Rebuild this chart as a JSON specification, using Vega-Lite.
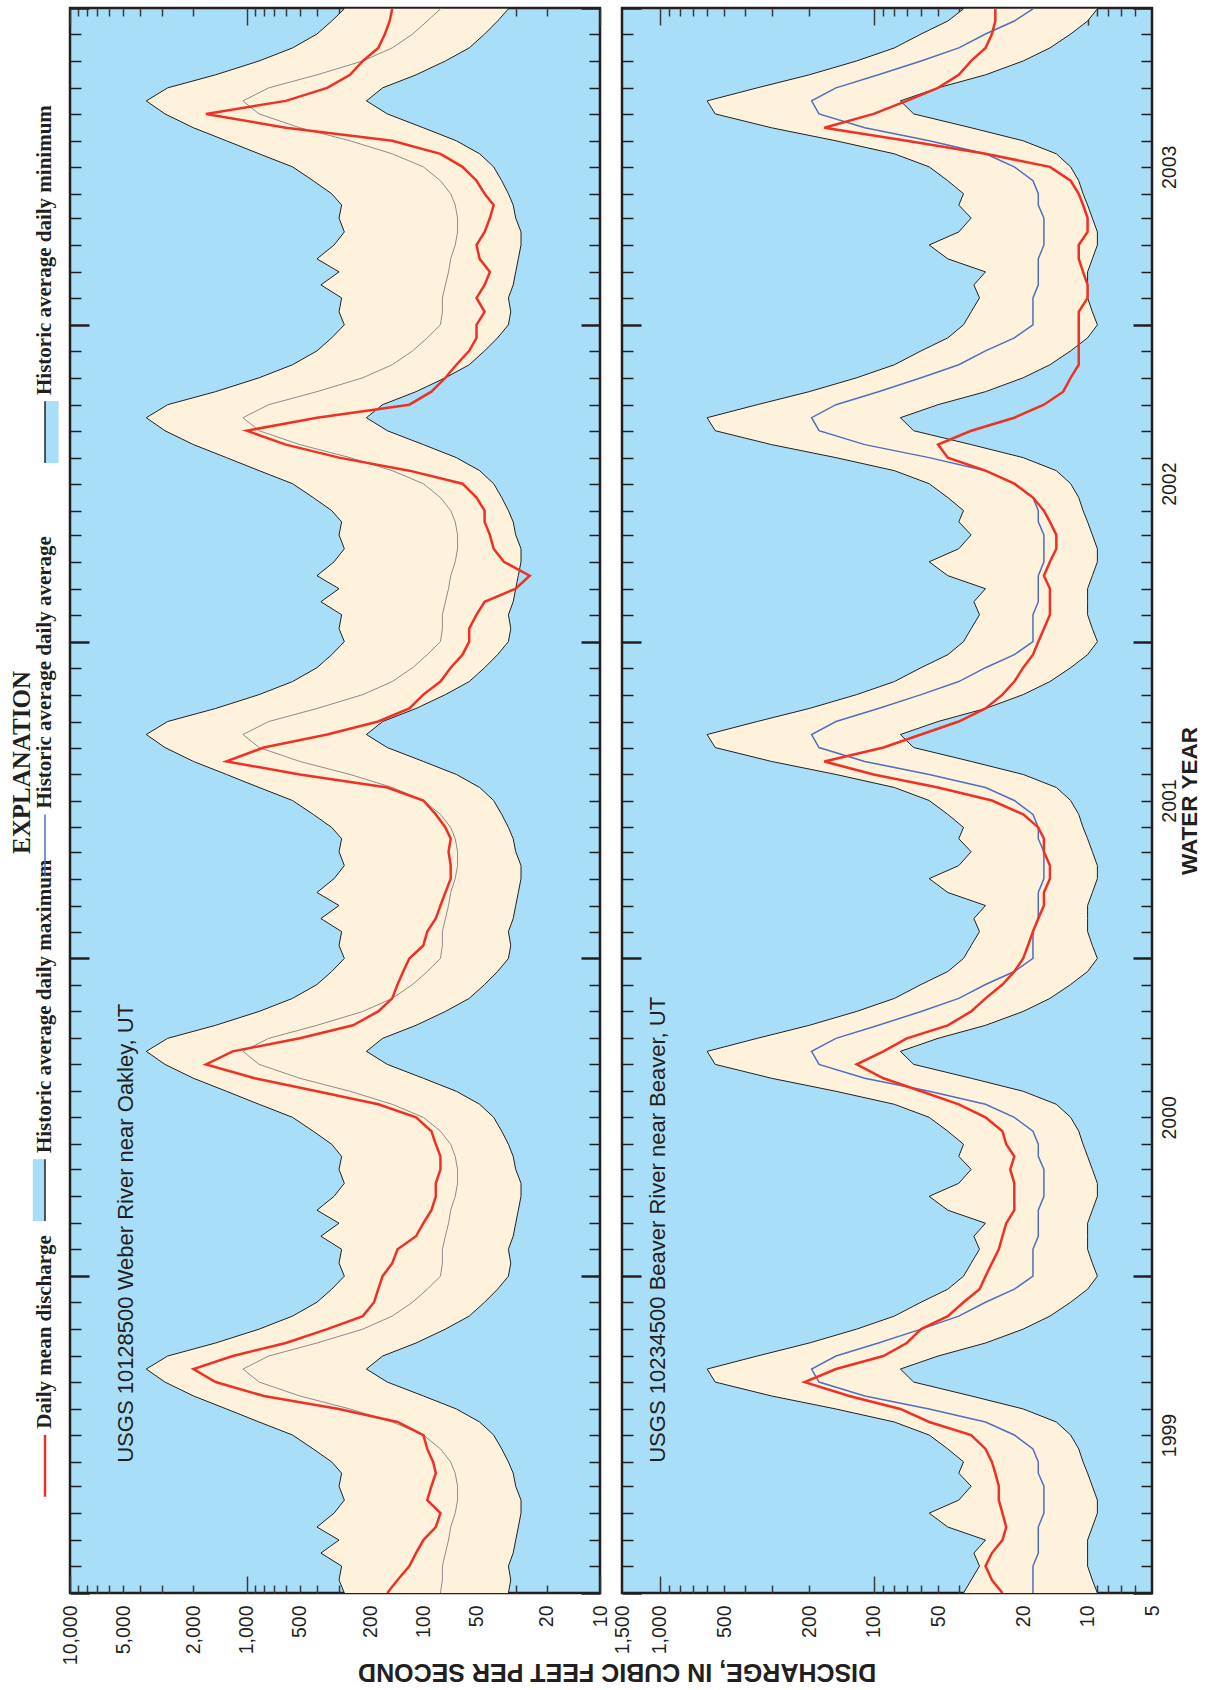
{
"$schema": "https://vega.github.io/schema/vega-lite/v6.json",
"padding": {"left": 0, "top": 5, "right": 0, "bottom": 0},
"bounds": "flush",
"spacing": 22,
"config": {
  "view": {"stroke": "#231f20", "strokeWidth": 2.5, "fill": "#a9def9"},
  "axis": {"labelFont": "Liberation Sans", "labelColor": "#231f20", "titleFont": "Liberation Sans", "titleColor": "#231f20", "grid": false, "domain": false}
},
"title": {"text": "DISCHARGE, IN CUBIC FEET PER SECOND", "orient": "bottom", "anchor": "middle", "angle": 180, "baseline": "alphabetic", "fontSize": 25, "fontWeight": "bold", "font": "Liberation Sans", "color": "#231f20", "offset": -2, "dx": -16},
"datasets": {
"legend": [
 {"item": "Historic average daily minimum", "key": "min"},
 {"item": "Historic average daily average", "key": "avg"},
 {"item": "Historic average daily maximum", "key": "max"},
 {"item": "Daily mean discharge", "key": "mean"}
],
"flow": [
{"date":"1998-10-01","wx":280,"wn":33,"wa":80,"wm":160,"bx":38,"bn":9,"ba":18,"bm":25},
{"date":"1998-10-16","wx":300,"wn":32,"wa":78,"wm":140,"bx":35,"bn":9.5,"ba":18,"bm":28},
{"date":"1998-11-01","wx":290,"wn":33,"wa":78,"wm":120,"bx":32,"bn":10,"ba":18,"bm":30},
{"date":"1998-11-16","wx":380,"wn":31,"wa":75,"wm":110,"bx":34,"bn":10,"ba":17,"bm":28},
{"date":"1998-12-01","wx":300,"wn":30,"wa":72,"wm":100,"bx":30,"bn":10,"ba":17,"bm":25},
{"date":"1998-12-16","wx":400,"wn":29,"wa":70,"wm":85,"bx":45,"bn":9.5,"ba":17,"bm":24},
{"date":"1999-01-01","wx":320,"wn":28,"wa":66,"wm":80,"bx":55,"bn":9,"ba":16,"bm":25},
{"date":"1999-01-16","wx":280,"wn":28,"wa":64,"wm":95,"bx":40,"bn":9,"ba":16,"bm":26},
{"date":"1999-02-01","wx":300,"wn":30,"wa":64,"wm":90,"bx":35,"bn":9.5,"ba":16,"bm":26},
{"date":"1999-02-16","wx":290,"wn":31,"wa":66,"wm":85,"bx":40,"bn":10,"ba":17,"bm":27},
{"date":"1999-03-01","wx":330,"wn":33,"wa":70,"wm":88,"bx":38,"bn":10.5,"ba":17,"bm":28},
{"date":"1999-03-16","wx":420,"wn":36,"wa":80,"wm":95,"bx":45,"bn":11,"ba":18,"bm":30},
{"date":"1999-04-01","wx":550,"wn":40,"wa":100,"wm":100,"bx":55,"bn":12,"ba":22,"bm":35},
{"date":"1999-04-16","wx":850,"wn":48,"wa":150,"wm":140,"bx":80,"bn":14,"ba":30,"bm":55},
{"date":"1999-05-01","wx":1300,"wn":65,"wa":260,"wm":300,"bx":150,"bn":20,"ba":55,"bm":75},
{"date":"1999-05-16","wx":2000,"wn":100,"wa":500,"wm":800,"bx":300,"bn":35,"ba":110,"bm":130},
{"date":"1999-06-01","wx":2900,"wn":160,"wa":850,"wm":1500,"bx":550,"bn":65,"ba":180,"bm":210},
{"date":"1999-06-16","wx":3700,"wn":210,"wa":1050,"wm":2000,"bx":600,"bn":75,"ba":195,"bm":150},
{"date":"1999-07-01","wx":2800,"wn":170,"wa":750,"wm":1200,"bx":350,"bn":50,"ba":150,"bm":90},
{"date":"1999-07-16","wx":1500,"wn":110,"wa":400,"wm":600,"bx":200,"bn":30,"ba":95,"bm":70},
{"date":"1999-08-01","wx":850,"wn":75,"wa":220,"wm":350,"bx":120,"bn":20,"ba":60,"bm":60},
{"date":"1999-08-16","wx":550,"wn":55,"wa":150,"wm":220,"bx":80,"bn":15,"ba":40,"bm":45},
{"date":"1999-09-01","wx":400,"wn":45,"wa":115,"wm":190,"bx":60,"bn":12,"ba":30,"bm":38},
{"date":"1999-09-16","wx":330,"wn":38,"wa":95,"wm":180,"bx":45,"bn":10,"ba":22,"bm":32},
{"date":"1999-10-01","wx":280,"wn":33,"wa":80,"wm":170,"bx":38,"bn":9,"ba":18,"bm":30},
{"date":"1999-10-16","wx":300,"wn":32,"wa":78,"wm":150,"bx":35,"bn":9.5,"ba":18,"bm":28},
{"date":"1999-11-01","wx":290,"wn":33,"wa":78,"wm":140,"bx":32,"bn":10,"ba":18,"bm":26},
{"date":"1999-11-16","wx":380,"wn":31,"wa":75,"wm":110,"bx":34,"bn":10,"ba":17,"bm":25},
{"date":"1999-12-01","wx":300,"wn":30,"wa":72,"wm":100,"bx":30,"bn":10,"ba":17,"bm":24},
{"date":"1999-12-16","wx":400,"wn":29,"wa":70,"wm":90,"bx":45,"bn":9.5,"ba":17,"bm":22},
{"date":"2000-01-01","wx":320,"wn":28,"wa":66,"wm":85,"bx":55,"bn":9,"ba":16,"bm":22},
{"date":"2000-01-16","wx":280,"wn":28,"wa":64,"wm":85,"bx":40,"bn":9,"ba":16,"bm":22},
{"date":"2000-02-01","wx":300,"wn":30,"wa":64,"wm":80,"bx":35,"bn":9.5,"ba":16,"bm":23},
{"date":"2000-02-16","wx":290,"wn":31,"wa":66,"wm":80,"bx":40,"bn":10,"ba":17,"bm":22},
{"date":"2000-03-01","wx":330,"wn":33,"wa":70,"wm":85,"bx":38,"bn":10.5,"ba":17,"bm":24},
{"date":"2000-03-16","wx":420,"wn":36,"wa":80,"wm":90,"bx":45,"bn":11,"ba":18,"bm":25},
{"date":"2000-04-01","wx":550,"wn":40,"wa":100,"wm":110,"bx":55,"bn":12,"ba":22,"bm":30},
{"date":"2000-04-16","wx":850,"wn":48,"wa":150,"wm":180,"bx":80,"bn":14,"ba":30,"bm":40},
{"date":"2000-05-01","wx":1300,"wn":65,"wa":260,"wm":400,"bx":150,"bn":20,"ba":55,"bm":60},
{"date":"2000-05-16","wx":2000,"wn":100,"wa":500,"wm":900,"bx":300,"bn":35,"ba":110,"bm":90},
{"date":"2000-06-01","wx":2900,"wn":160,"wa":850,"wm":1700,"bx":550,"bn":65,"ba":180,"bm":120},
{"date":"2000-06-16","wx":3700,"wn":210,"wa":1050,"wm":1200,"bx":600,"bn":75,"ba":195,"bm":90},
{"date":"2000-07-01","wx":2800,"wn":170,"wa":750,"wm":500,"bx":350,"bn":50,"ba":150,"bm":70},
{"date":"2000-07-16","wx":1500,"wn":110,"wa":400,"wm":250,"bx":200,"bn":30,"ba":95,"bm":45},
{"date":"2000-08-01","wx":850,"wn":75,"wa":220,"wm":180,"bx":120,"bn":20,"ba":60,"bm":35},
{"date":"2000-08-16","wx":550,"wn":55,"wa":150,"wm":150,"bx":80,"bn":15,"ba":40,"bm":30},
{"date":"2000-09-01","wx":400,"wn":45,"wa":115,"wm":140,"bx":60,"bn":12,"ba":30,"bm":25},
{"date":"2000-09-16","wx":330,"wn":38,"wa":95,"wm":130,"bx":45,"bn":10,"ba":22,"bm":22},
{"date":"2000-10-01","wx":280,"wn":33,"wa":80,"wm":120,"bx":38,"bn":9,"ba":18,"bm":20},
{"date":"2000-10-16","wx":300,"wn":32,"wa":78,"wm":100,"bx":35,"bn":9.5,"ba":18,"bm":19},
{"date":"2000-11-01","wx":290,"wn":33,"wa":78,"wm":95,"bx":32,"bn":10,"ba":18,"bm":18},
{"date":"2000-11-16","wx":380,"wn":31,"wa":75,"wm":85,"bx":34,"bn":10,"ba":17,"bm":17},
{"date":"2000-12-01","wx":300,"wn":30,"wa":72,"wm":80,"bx":30,"bn":10,"ba":17,"bm":16},
{"date":"2000-12-16","wx":400,"wn":29,"wa":70,"wm":75,"bx":45,"bn":9.5,"ba":17,"bm":16},
{"date":"2001-01-01","wx":320,"wn":28,"wa":66,"wm":70,"bx":55,"bn":9,"ba":16,"bm":15},
{"date":"2001-01-16","wx":280,"wn":28,"wa":64,"wm":70,"bx":40,"bn":9,"ba":16,"bm":15},
{"date":"2001-02-01","wx":300,"wn":30,"wa":64,"wm":72,"bx":35,"bn":9.5,"ba":16,"bm":16},
{"date":"2001-02-16","wx":290,"wn":31,"wa":66,"wm":70,"bx":40,"bn":10,"ba":17,"bm":16},
{"date":"2001-03-01","wx":330,"wn":33,"wa":70,"wm":75,"bx":38,"bn":10.5,"ba":17,"bm":17},
{"date":"2001-03-16","wx":420,"wn":36,"wa":80,"wm":85,"bx":45,"bn":11,"ba":18,"bm":20},
{"date":"2001-04-01","wx":550,"wn":40,"wa":100,"wm":100,"bx":55,"bn":12,"ba":22,"bm":28},
{"date":"2001-04-16","wx":850,"wn":48,"wa":150,"wm":160,"bx":80,"bn":14,"ba":30,"bm":50},
{"date":"2001-05-01","wx":1300,"wn":65,"wa":260,"wm":500,"bx":150,"bn":20,"ba":55,"bm":100},
{"date":"2001-05-16","wx":2000,"wn":100,"wa":500,"wm":1300,"bx":300,"bn":35,"ba":110,"bm":170},
{"date":"2001-06-01","wx":2900,"wn":160,"wa":850,"wm":800,"bx":550,"bn":65,"ba":180,"bm":90},
{"date":"2001-06-16","wx":3700,"wn":210,"wa":1050,"wm":350,"bx":600,"bn":75,"ba":195,"bm":60},
{"date":"2001-07-01","wx":2800,"wn":170,"wa":750,"wm":180,"bx":350,"bn":50,"ba":150,"bm":40},
{"date":"2001-07-16","wx":1500,"wn":110,"wa":400,"wm":120,"bx":200,"bn":30,"ba":95,"bm":30},
{"date":"2001-08-01","wx":850,"wn":75,"wa":220,"wm":100,"bx":120,"bn":20,"ba":60,"bm":25},
{"date":"2001-08-16","wx":550,"wn":55,"wa":150,"wm":80,"bx":80,"bn":15,"ba":40,"bm":22},
{"date":"2001-09-01","wx":400,"wn":45,"wa":115,"wm":70,"bx":60,"bn":12,"ba":30,"bm":20},
{"date":"2001-09-16","wx":330,"wn":38,"wa":95,"wm":60,"bx":45,"bn":10,"ba":22,"bm":18},
{"date":"2001-10-01","wx":280,"wn":33,"wa":80,"wm":55,"bx":38,"bn":9,"ba":18,"bm":17},
{"date":"2001-10-16","wx":300,"wn":32,"wa":78,"wm":55,"bx":35,"bn":9.5,"ba":18,"bm":16},
{"date":"2001-11-01","wx":290,"wn":33,"wa":78,"wm":50,"bx":32,"bn":10,"ba":18,"bm":15},
{"date":"2001-11-16","wx":380,"wn":31,"wa":75,"wm":45,"bx":34,"bn":10,"ba":17,"bm":15},
{"date":"2001-12-01","wx":300,"wn":30,"wa":72,"wm":30,"bx":30,"bn":10,"ba":17,"bm":15},
{"date":"2001-12-16","wx":400,"wn":29,"wa":70,"wm":25,"bx":45,"bn":9.5,"ba":17,"bm":16},
{"date":"2002-01-01","wx":320,"wn":28,"wa":66,"wm":35,"bx":55,"bn":9,"ba":16,"bm":15},
{"date":"2002-01-16","wx":280,"wn":28,"wa":64,"wm":40,"bx":40,"bn":9,"ba":16,"bm":14},
{"date":"2002-02-01","wx":300,"wn":30,"wa":64,"wm":42,"bx":35,"bn":9.5,"ba":16,"bm":14},
{"date":"2002-02-16","wx":290,"wn":31,"wa":66,"wm":45,"bx":40,"bn":10,"ba":17,"bm":15},
{"date":"2002-03-01","wx":330,"wn":33,"wa":70,"wm":45,"bx":38,"bn":10.5,"ba":17,"bm":16},
{"date":"2002-03-16","wx":420,"wn":36,"wa":80,"wm":50,"bx":45,"bn":11,"ba":18,"bm":18},
{"date":"2002-04-01","wx":550,"wn":40,"wa":100,"wm":60,"bx":55,"bn":12,"ba":22,"bm":22},
{"date":"2002-04-16","wx":850,"wn":48,"wa":150,"wm":120,"bx":80,"bn":14,"ba":30,"bm":30},
{"date":"2002-05-01","wx":1300,"wn":65,"wa":260,"wm":300,"bx":150,"bn":20,"ba":55,"bm":45},
{"date":"2002-05-16","wx":2000,"wn":100,"wa":500,"wm":600,"bx":300,"bn":35,"ba":110,"bm":50},
{"date":"2002-06-01","wx":2900,"wn":160,"wa":850,"wm":1000,"bx":550,"bn":65,"ba":180,"bm":35},
{"date":"2002-06-16","wx":3700,"wn":210,"wa":1050,"wm":400,"bx":600,"bn":75,"ba":195,"bm":22},
{"date":"2002-07-01","wx":2800,"wn":170,"wa":750,"wm":120,"bx":350,"bn":50,"ba":150,"bm":16},
{"date":"2002-07-16","wx":1500,"wn":110,"wa":400,"wm":90,"bx":200,"bn":30,"ba":95,"bm":13},
{"date":"2002-08-01","wx":850,"wn":75,"wa":220,"wm":75,"bx":120,"bn":20,"ba":60,"bm":12},
{"date":"2002-08-16","wx":550,"wn":55,"wa":150,"wm":65,"bx":80,"bn":15,"ba":40,"bm":11},
{"date":"2002-09-01","wx":400,"wn":45,"wa":115,"wm":55,"bx":60,"bn":12,"ba":30,"bm":11},
{"date":"2002-09-16","wx":330,"wn":38,"wa":95,"wm":50,"bx":45,"bn":10,"ba":22,"bm":11},
{"date":"2002-10-01","wx":280,"wn":33,"wa":80,"wm":50,"bx":38,"bn":9,"ba":18,"bm":11},
{"date":"2002-10-16","wx":300,"wn":32,"wa":78,"wm":45,"bx":35,"bn":9.5,"ba":18,"bm":11},
{"date":"2002-11-01","wx":290,"wn":33,"wa":78,"wm":50,"bx":32,"bn":10,"ba":18,"bm":10},
{"date":"2002-11-16","wx":380,"wn":31,"wa":75,"wm":45,"bx":34,"bn":10,"ba":17,"bm":10},
{"date":"2002-12-01","wx":300,"wn":30,"wa":72,"wm":42,"bx":30,"bn":10,"ba":17,"bm":10.5},
{"date":"2002-12-16","wx":400,"wn":29,"wa":70,"wm":48,"bx":45,"bn":9.5,"ba":17,"bm":11},
{"date":"2003-01-01","wx":320,"wn":28,"wa":66,"wm":50,"bx":55,"bn":9,"ba":16,"bm":11},
{"date":"2003-01-16","wx":280,"wn":28,"wa":64,"wm":45,"bx":40,"bn":9,"ba":16,"bm":10},
{"date":"2003-02-01","wx":300,"wn":30,"wa":64,"wm":42,"bx":35,"bn":9.5,"ba":16,"bm":10},
{"date":"2003-02-16","wx":290,"wn":31,"wa":66,"wm":40,"bx":40,"bn":10,"ba":17,"bm":10.5},
{"date":"2003-03-01","wx":330,"wn":33,"wa":70,"wm":45,"bx":38,"bn":10.5,"ba":17,"bm":11},
{"date":"2003-03-16","wx":420,"wn":36,"wa":80,"wm":50,"bx":45,"bn":11,"ba":18,"bm":12},
{"date":"2003-04-01","wx":550,"wn":40,"wa":100,"wm":60,"bx":55,"bn":12,"ba":22,"bm":15},
{"date":"2003-04-16","wx":850,"wn":48,"wa":150,"wm":80,"bx":80,"bn":14,"ba":30,"bm":30},
{"date":"2003-05-01","wx":1300,"wn":65,"wa":260,"wm":150,"bx":150,"bn":20,"ba":55,"bm":70},
{"date":"2003-05-16","wx":2000,"wn":100,"wa":500,"wm":600,"bx":300,"bn":35,"ba":110,"bm":170},
{"date":"2003-06-01","wx":2900,"wn":160,"wa":850,"wm":1700,"bx":550,"bn":65,"ba":180,"bm":100},
{"date":"2003-06-16","wx":3700,"wn":210,"wa":1050,"wm":600,"bx":600,"bn":75,"ba":195,"bm":70},
{"date":"2003-07-01","wx":2800,"wn":170,"wa":750,"wm":350,"bx":350,"bn":50,"ba":150,"bm":50},
{"date":"2003-07-16","wx":1500,"wn":110,"wa":400,"wm":260,"bx":200,"bn":30,"ba":95,"bm":40},
{"date":"2003-08-01","wx":850,"wn":75,"wa":220,"wm":220,"bx":120,"bn":20,"ba":60,"bm":35},
{"date":"2003-08-16","wx":550,"wn":55,"wa":150,"wm":180,"bx":80,"bn":15,"ba":40,"bm":30},
{"date":"2003-09-01","wx":400,"wn":45,"wa":115,"wm":165,"bx":60,"bn":12,"ba":30,"bm":28},
{"date":"2003-09-16","wx":330,"wn":38,"wa":95,"wm":155,"bx":45,"bn":10,"ba":22,"bm":27},
{"date":"2003-09-30","wx":280,"wn":33,"wa":80,"wm":150,"bx":38,"bn":9,"ba":18,"bm":27}
]
},
"hconcat": [
{
  "width": 48, "height": 1585,
  "view": {"stroke": null, "fill": null},
  "data": {"name": "legend"},
  "encoding": {
    "y": {"field": "item", "type": "nominal", "axis": null,
          "scale": {"type": "point", "padding": 1, "align": 0.308,
                    "domain": ["d1", "d2", "d3", "d4", "d5", "Historic average daily minimum", "d6", "d7", "d8", "d9", "d10", "Historic average daily average", "d11", "d12", "d13", "d14", "Historic average daily maximum", "d15", "d16", "d17", "Daily mean discharge", "d18"]}}
  },
  "layer": [
    {
      "mark": {"type": "text", "angle": 270, "align": "left", "baseline": "middle", "font": "Liberation Serif", "fontWeight": "bold", "fontSize": 21, "color": "#231f20", "xOffset": 21},
      "encoding": {"text": {"field": "item"}}
    },
    {
      "transform": [{"filter": "datum.key == 'mean'"}],
      "mark": {"type": "point", "shape": "M0,0.09L0,1", "size": 18496, "filled": false, "color": "#ee3124", "strokeWidth": 2.5, "opacity": 1, "xOffset": 21}
    },
    {
      "transform": [{"filter": "datum.key == 'max'"}],
      "mark": {"type": "point", "shape": "M-0.18,0.09L0,0.09L0,1L-0.18,1Z", "size": 18496, "filled": true, "color": "#a9def9", "opacity": 1, "xOffset": 21}
    },
    {
      "transform": [{"filter": "datum.key == 'min'"}],
      "mark": {"type": "point", "shape": "M0,0.09L0.2,0.09L0.2,1L0,1Z", "size": 18496, "filled": true, "color": "#a9def9", "opacity": 1, "xOffset": 21}
    },
    {
      "transform": [{"filter": "datum.key == 'max' || datum.key == 'min'"}],
      "mark": {"type": "point", "shape": "M0,0.09L0,1", "size": 18496, "filled": false, "color": "#231f20", "strokeWidth": 1.5, "opacity": 1, "xOffset": 21}
    },
    {
      "transform": [{"filter": "datum.key == 'avg'"}],
      "mark": {"type": "point", "shape": "M0,0.09L0,1", "size": 18496, "filled": false, "color": "#4f6fbf", "strokeWidth": 1.5, "opacity": 1, "xOffset": 21}
    },
    {
      "data": {"values": [{"t": "EXPLANATION"}]},
      "mark": {"type": "text", "angle": 270, "align": "center", "baseline": "middle", "font": "Liberation Serif", "fontWeight": "bold", "fontSize": 25, "color": "#231f20", "xOffset": -2, "dx": 38},
      "encoding": {"text": {"field": "t"}, "y": null}
    }
  ]
},
{
  "width": 530, "height": 1585,
  "data": {"name": "flow"},
  "layer": [
    {
      "mark": {"type": "area", "color": "#fff2dc", "clip": true, "orient": "horizontal", "opacity": 1},
      "encoding": {
        "y": {"field": "date", "type": "temporal", "scale": {"domain": [{"year": 1998, "month": 10, "date": 1}, {"year": 2003, "month": 10, "date": 1}], "nice": false},
              "axis": {"orient": "left", "tickCount": {"interval": "month", "step": 1}, "labels": false, "title": null, "tickColor": "#231f20",
                       "tickSize": {"condition": {"test": "month(datum.value) == 9", "value": -19}, "value": -11},
                       "tickWidth": {"condition": {"test": "month(datum.value) == 9", "value": 2.5}, "value": 1.5}}},
        "x": {"field": "wx", "type": "quantitative", "scale": {"type": "log", "domain": [10, 10000], "reverse": true, "nice": false},
              "axis": {"orient": "bottom", "values": [10, 20, 50, 100, 200, 500, 1000, 2000, 5000, 10000], "format": ",d", "labelAngle": 270, "labelAlign": "right", "labelBaseline": "middle", "labelPadding": 12, "ticks": false, "title": null, "labelFontSize": 19.5, "labelFlush": false, "labelOverlap": false, "labelBound": false}},
        "x2": {"field": "wn"}
      }
    },
    {
      "mark": {"type": "line", "color": "#231f20", "strokeWidth": 1, "clip": true},
      "encoding": {
        "y": {"field": "date", "type": "temporal",
              "axis": {"orient": "right", "tickCount": {"interval": "month", "step": 1}, "labels": false, "title": null, "tickColor": "#231f20",
                       "tickSize": {"condition": {"test": "month(datum.value) == 9", "value": -19}, "value": -11},
                       "tickWidth": {"condition": {"test": "month(datum.value) == 9", "value": 2.5}, "value": 1.5}}},
        "x": {"field": "wx", "type": "quantitative",
              "axis": {"orient": "top", "values": [10, 20, 30, 40, 50, 60, 70, 80, 90, 100, 200, 300, 400, 500, 600, 700, 800, 900, 1000, 2000, 3000, 4000, 5000, 6000, 7000, 8000, 9000, 10000], "labels": false, "title": null, "tickColor": "#3a3a3a", "tickWidth": 1.5,
                       "tickSize": {"condition": {"test": "datum.value == 10 || datum.value == 100 || datum.value == 1000 || datum.value == 10000", "value": -17}, "value": -8}}},
        "order": {"field": "date", "type": "temporal"}
      }
    },
    {
      "mark": {"type": "line", "color": "#231f20", "strokeWidth": 1, "clip": true},
      "encoding": {
        "y": {"field": "date", "type": "temporal", "axis": null},
        "x": {"field": "wn", "type": "quantitative",
              "axis": {"orient": "bottom", "values": [10, 20, 30, 40, 50, 60, 70, 80, 90, 100, 200, 300, 400, 500, 600, 700, 800, 900, 1000, 2000, 3000, 4000, 5000, 6000, 7000, 8000, 9000, 10000], "labels": false, "title": null, "tickColor": "#3a3a3a", "tickWidth": 1.5,
                       "tickSize": {"condition": {"test": "datum.value == 10 || datum.value == 100 || datum.value == 1000 || datum.value == 10000", "value": -17}, "value": -8}}},
        "order": {"field": "date", "type": "temporal"}
      }
    },
    {
      "mark": {"type": "line", "color": "#8c8c8c", "strokeWidth": 1, "clip": true},
      "encoding": {
        "y": {"field": "date", "type": "temporal", "axis": null},
        "x": {"field": "wa", "type": "quantitative", "axis": null},
        "order": {"field": "date", "type": "temporal"}
      }
    },
    {
      "mark": {"type": "line", "color": "#ee3124", "strokeWidth": 2.5, "clip": true},
      "encoding": {
        "y": {"field": "date", "type": "temporal", "axis": null},
        "x": {"field": "wm", "type": "quantitative", "axis": null},
        "order": {"field": "date", "type": "temporal"}
      }
    },
    {
      "data": {"values": [{"label": "USGS 10128500 Weber River near Oakley, UT"}]},
      "mark": {"type": "text", "angle": 270, "align": "left", "baseline": "middle", "fontSize": 22, "font": "Liberation Sans", "color": "#231f20"},
      "encoding": {
        "text": {"field": "label"},
        "x": {"datum": 4800, "type": "quantitative", "axis": null},
        "y": {"datum": {"year": 1999, "month": 2, "date": 28}, "type": "temporal", "axis": null}
      }
    }
  ],
  "resolve": {"axis": {"x": "independent", "y": "independent"}}
},
{
  "width": 530, "height": 1585,
  "data": {"name": "flow"},
  "layer": [
    {
      "mark": {"type": "area", "color": "#fff2dc", "clip": true, "orient": "horizontal", "opacity": 1},
      "encoding": {
        "y": {"field": "date", "type": "temporal", "scale": {"domain": [{"year": 1998, "month": 10, "date": 1}, {"year": 2003, "month": 10, "date": 1}], "nice": false},
              "axis": {"orient": "left", "tickCount": {"interval": "month", "step": 1}, "labels": false, "title": null, "tickColor": "#231f20",
                       "tickSize": {"condition": {"test": "month(datum.value) == 9", "value": -19}, "value": -11},
                       "tickWidth": {"condition": {"test": "month(datum.value) == 9", "value": 2.5}, "value": 1.5}}},
        "x": {"field": "bx", "type": "quantitative", "scale": {"type": "log", "domain": [5, 1500], "reverse": true, "nice": false},
              "axis": {"orient": "bottom", "values": [5, 10, 20, 50, 100, 200, 500, 1000, 1500], "format": ",d", "labelAngle": 270, "labelAlign": "right", "labelBaseline": "middle", "labelPadding": 12, "ticks": false, "title": null, "labelFontSize": 19.5, "labelFlush": false, "labelOverlap": false, "labelBound": false}},
        "x2": {"field": "bn"}
      }
    },
    {
      "mark": {"type": "line", "color": "#231f20", "strokeWidth": 1, "clip": true},
      "encoding": {
        "y": {"field": "date", "type": "temporal",
              "axis": {"orient": "right", "tickCount": {"interval": "month", "step": 1}, "labels": false, "title": null, "tickColor": "#231f20",
                       "tickSize": {"condition": {"test": "month(datum.value) == 9", "value": -19}, "value": -11},
                       "tickWidth": {"condition": {"test": "month(datum.value) == 9", "value": 2.5}, "value": 1.5}}},
        "x": {"field": "bx", "type": "quantitative",
              "axis": {"orient": "top", "values": [6, 7, 8, 9, 10, 20, 30, 40, 50, 60, 70, 80, 90, 100, 200, 300, 400, 500, 600, 700, 800, 900, 1000], "labels": false, "title": null, "tickColor": "#3a3a3a", "tickWidth": 1.5,
                       "tickSize": {"condition": {"test": "datum.value == 10 || datum.value == 100 || datum.value == 1000", "value": -17}, "value": -8}}},
        "order": {"field": "date", "type": "temporal"}
      }
    },
    {
      "mark": {"type": "line", "color": "#231f20", "strokeWidth": 1, "clip": true},
      "encoding": {
        "y": {"field": "date", "type": "temporal",
              "axis": {"orient": "right", "values": [{"year": 1999, "month": 4, "date": 1}, {"year": 2000, "month": 4, "date": 1}, {"year": 2001, "month": 4, "date": 1}, {"year": 2002, "month": 4, "date": 1}, {"year": 2003, "month": 4, "date": 1}],
                       "format": "%Y", "labelAngle": 270, "labelAlign": "center", "labelBaseline": "top", "labelPadding": 8, "ticks": false, "labelFontSize": 19.5, "labelOverlap": false, "labelBound": false,
                       "title": "WATER YEAR", "titleAngle": 270, "titleBaseline": "top", "titleFontSize": 22.5, "titleFontWeight": "bold", "titlePadding": 0}},
        "x": {"field": "bn", "type": "quantitative",
              "axis": {"orient": "bottom", "values": [6, 7, 8, 9, 10, 20, 30, 40, 50, 60, 70, 80, 90, 100, 200, 300, 400, 500, 600, 700, 800, 900, 1000], "labels": false, "title": null, "tickColor": "#3a3a3a", "tickWidth": 1.5,
                       "tickSize": {"condition": {"test": "datum.value == 10 || datum.value == 100 || datum.value == 1000", "value": -17}, "value": -8}}},
        "order": {"field": "date", "type": "temporal"}
      }
    },
    {
      "mark": {"type": "line", "color": "#4f6fbf", "strokeWidth": 1.5, "clip": true},
      "encoding": {
        "y": {"field": "date", "type": "temporal", "axis": null},
        "x": {"field": "ba", "type": "quantitative", "axis": null},
        "order": {"field": "date", "type": "temporal"}
      }
    },
    {
      "mark": {"type": "line", "color": "#ee3124", "strokeWidth": 2.5, "clip": true},
      "encoding": {
        "y": {"field": "date", "type": "temporal", "axis": null},
        "x": {"field": "bm", "type": "quantitative", "axis": null},
        "order": {"field": "date", "type": "temporal"}
      }
    },
    {
      "data": {"values": [{"label": "USGS 10234500 Beaver River near Beaver, UT"}]},
      "mark": {"type": "text", "angle": 270, "align": "left", "baseline": "middle", "fontSize": 22, "font": "Liberation Sans", "color": "#231f20"},
      "encoding": {
        "text": {"field": "label"},
        "x": {"datum": 1014, "type": "quantitative", "axis": null},
        "y": {"datum": {"year": 1999, "month": 2, "date": 28}, "type": "temporal", "axis": null}
      }
    }
  ],
  "resolve": {"axis": {"x": "independent", "y": "independent"}}
}
]
}
